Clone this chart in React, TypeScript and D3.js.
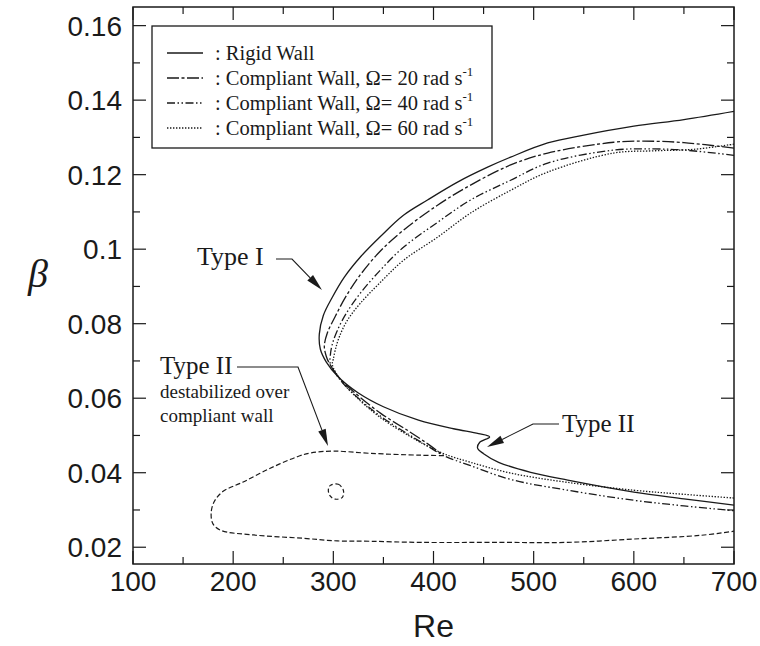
import React from 'react';
import * as d3 from 'd3';

type P = [number, number];

// ---- axis ticks ----
const reTicks = [100, 200, 300, 400, 500, 600, 700];
const reMinorTicks = [150, 250, 350, 450, 550, 650];
const betaTicks = [0.02, 0.04, 0.06, 0.08, 0.1, 0.12, 0.14, 0.16];
const betaTickLabels = ['0.02', '0.04', '0.06', '0.08', '0.1', '0.12', '0.14', '0.16'];
const betaMinorTicks = [0.03, 0.05, 0.07, 0.09, 0.11, 0.13, 0.15];

// ---- neutral stability curves [Re, beta] ----
const rigidWall: P[] = [
  [700, 0.1370], [650, 0.1348], [600, 0.1330], [550, 0.1306], [514, 0.1285], [477, 0.1247],
  [454, 0.1220], [424, 0.1180], [394, 0.1132], [370, 0.1091], [347, 0.1034], [327, 0.0979],
  [311, 0.0925], [299, 0.0871], [290, 0.0822], [286, 0.0772], [287, 0.0732], [293, 0.0697],
  [305, 0.0657], [325, 0.0614], [350, 0.0577], [385, 0.0541], [420, 0.0518], [445, 0.0505],
  [456, 0.0496], [446, 0.0481], [444, 0.0466], [450, 0.0451], [465, 0.0428], [497, 0.0401],
  [534, 0.0380], [600, 0.0348], [650, 0.0330], [700, 0.0313],
];
const omega20: P[] = [
  [700, 0.1271], [650, 0.1286], [610, 0.1290], [580, 0.1287], [514, 0.1258], [477, 0.1226],
  [437, 0.1172], [404, 0.1118], [370, 0.1051], [347, 0.0995], [328, 0.0935], [313, 0.0875],
  [302, 0.0820], [294, 0.0775], [291, 0.0740], [293, 0.0712], [296, 0.0694], [305, 0.0658],
  [320, 0.0618], [347, 0.0560], [375, 0.0512], [395, 0.0476], [410, 0.0446],
];
const omega40: P[] = [
  [700, 0.1252], [650, 0.1266], [620, 0.1269], [580, 0.1266], [514, 0.1231], [477, 0.1185],
  [437, 0.1132], [404, 0.1072], [370, 0.1005], [347, 0.0944], [327, 0.0882], [313, 0.0828],
  [304, 0.0782], [299, 0.0745], [297, 0.0715], [297, 0.0692], [306, 0.0652], [322, 0.0607],
  [347, 0.0552], [375, 0.0503], [395, 0.0470], [410, 0.0446], [437, 0.0419], [477, 0.0382],
  [534, 0.0353], [600, 0.0326], [650, 0.0311], [700, 0.0298],
];
const omega60: P[] = [
  [700, 0.1282], [660, 0.1268], [620, 0.1264], [580, 0.1258], [514, 0.1207], [477, 0.1158],
  [437, 0.1097], [404, 0.1032], [370, 0.0970], [347, 0.0911], [327, 0.0855], [314, 0.0809],
  [306, 0.0765], [302, 0.0730], [300, 0.0705], [299, 0.0690], [307, 0.0650], [323, 0.0603],
  [347, 0.0548], [375, 0.0500], [395, 0.0470], [412, 0.0449], [437, 0.0428], [477, 0.0399],
  [534, 0.0374], [600, 0.0353], [650, 0.0342], [700, 0.0332],
];
const typeIILoop: P[] = [
  [410, 0.0446], [387, 0.0447], [337, 0.0452], [300, 0.0458], [277, 0.0453], [264, 0.0443],
  [237, 0.0412], [210, 0.0375], [190, 0.0350], [181, 0.0322], [178, 0.0290], [180, 0.0262],
  [188, 0.0245], [220, 0.0233], [270, 0.0224], [304, 0.0217], [337, 0.0216], [387, 0.0213],
  [467, 0.0213], [534, 0.0213], [600, 0.0222], [667, 0.0232], [700, 0.0243],
];
const typeIIIsland: P[] = [
  [297, 0.0366], [305, 0.0369], [310, 0.0353], [309, 0.0334], [302, 0.0329], [297, 0.0337], [295, 0.0353],
];

const legendLabels = [
  ': Rigid Wall',
  ': Compliant Wall, \u03A9= 20 rad s',
  ': Compliant Wall, \u03A9= 40 rad s',
  ': Compliant Wall, \u03A9= 60 rad s',
];
const legendDashes = ['none', '12,2.5,3,2.5', '8,2.5,1.5,2.5,1.5,2.5', '1.4,1.6'];

const INK = '#1a1a1a';

function arrowHead(x1: number, y1: number, x2: number, y2: number, len = 17, half = 4) {
  const dx = x2 - x1, dy = y2 - y1;
  const L = Math.hypot(dx, dy);
  const ux = dx / L, uy = dy / L;
  const bx = x2 - ux * len, by = y2 - uy * len;
  const nx = -uy, ny = ux;
  return {
    pts: `${x2},${y2} ${bx + nx * half},${by + ny * half} ${bx - nx * half},${by - ny * half}`,
    bx, by,
  };
}

function Arrow({ pts }: { pts: [number, number][] }) {
  const n = pts.length;
  const [x1, y1] = pts[n - 2];
  const [x2, y2] = pts[n - 1];
  const h = arrowHead(x1, y1, x2, y2);
  const path = pts.slice(0, n - 1).map((p) => p.join(',')).join(' ') + ` ${h.bx},${h.by}`;
  return (
    <g>
      <polyline points={path} fill="none" stroke={INK} strokeWidth={1.1} />
      <polygon points={h.pts} fill={INK} />
    </g>
  );
}

export default function App() {
  const W = 760, H = 646;
  const x = d3.scaleLinear().domain([100, 700]).range([133, 734]);
  const y = d3.scaleLinear().domain([0.0155, 0.165]).range([564, 7]);
  const [x0, x1] = x.range();
  const [y0, y1] = y.range();

  const line = d3.line<P>().x((d) => x(d[0])).y((d) => y(d[1])).curve(d3.curveCatmullRom.alpha(0.5));
  const closed = d3.line<P>().x((d) => x(d[0])).y((d) => y(d[1])).curve(d3.curveCatmullRomClosed.alpha(0.5));

  const major = 13, minor = 7;
  const serif = '"Liberation Serif", "Times New Roman", serif';
  const sans = '"Liberation Sans", Arial, Helvetica, sans-serif';

  const series = [
    { d: rigidWall, dash: legendDashes[0] },
    { d: omega20, dash: legendDashes[1] },
    { d: omega40, dash: legendDashes[2] },
    { d: omega60, dash: legendDashes[3] },
  ];

  return (
    <svg width={W} height={H} viewBox={`0 0 ${W} ${H}`} style={{ position: 'absolute', left: 0, top: 0, background: '#fff' }}>
      <rect x={0} y={0} width={W} height={H} fill="#fff" />
      <defs>
        <clipPath id="plot">
          <rect x={x0} y={y1} width={x1 - x0} height={y0 - y1} />
        </clipPath>
      </defs>

      {/* curves */}
      <g clipPath="url(#plot)" fill="none" stroke={INK} strokeWidth={1.3}>
        {series.map((s, i) => (
          <path key={i} d={line(s.d) || ''} strokeDasharray={s.dash === 'none' ? undefined : s.dash} />
        ))}
        <path d={line(typeIILoop) || ''} strokeDasharray="5,2.5" strokeWidth={1.2} />
        <path d={closed(typeIIIsland) || ''} strokeDasharray="4,2.5" strokeWidth={1.2} />
      </g>

      {/* frame */}
      <rect x={x0} y={y1} width={x1 - x0} height={y0 - y1} fill="none" stroke={INK} strokeWidth={1.5} />

      {/* ticks */}
      <g stroke={INK} strokeWidth={1.2}>
        {reTicks.map((t) => (
          <g key={'xm' + t}>
            <line x1={x(t)} x2={x(t)} y1={y0} y2={y0 - major} />
            <line x1={x(t)} x2={x(t)} y1={y1} y2={y1 + major} />
          </g>
        ))}
        {reMinorTicks.map((t) => (
          <g key={'xn' + t}>
            <line x1={x(t)} x2={x(t)} y1={y0} y2={y0 - minor} />
            <line x1={x(t)} x2={x(t)} y1={y1} y2={y1 + minor} />
          </g>
        ))}
        {betaTicks.map((t) => (
          <g key={'ym' + t}>
            <line x1={x0} x2={x0 + major} y1={y(t)} y2={y(t)} />
            <line x1={x1} x2={x1 - major} y1={y(t)} y2={y(t)} />
          </g>
        ))}
        {betaMinorTicks.map((t) => (
          <g key={'yn' + t}>
            <line x1={x0} x2={x0 + minor} y1={y(t)} y2={y(t)} />
            <line x1={x1} x2={x1 - minor} y1={y(t)} y2={y(t)} />
          </g>
        ))}
      </g>

      {/* tick labels */}
      <g fontFamily={sans} fontSize={28} fill={INK}>
        {reTicks.map((t) => (
          <text key={'xl' + t} x={x(t)} y={y0 + 27} textAnchor="middle">{t}</text>
        ))}
        {betaTicks.map((t, i) => (
          <text key={'yl' + t} x={x0 - 11} y={y(t) + 10} textAnchor="end">{betaTickLabels[i]}</text>
        ))}
      </g>

      {/* axis titles */}
      <text x={(x0 + x1) / 2} y={637} textAnchor="middle" fontFamily={sans} fontSize={32} fill={INK}>Re</text>
      <text x={38} y={287} textAnchor="middle" fontFamily={serif} fontStyle="italic" fontSize={40} fill={INK}>{'\u03B2'}</text>

      {/* legend */}
      <rect x={152} y={26} width={340} height={122} fill="#fff" stroke={INK} strokeWidth={1.3} />
      {legendLabels.map((lab, i) => {
        const cy = 53 + i * 25;
        return (
          <g key={'lg' + i}>
            <line x1={167} x2={203} y1={cy} y2={cy} stroke={INK} strokeWidth={1.3}
              strokeDasharray={legendDashes[i] === 'none' ? undefined : legendDashes[i]} />
            <text x={215} y={cy + 7} fontFamily={serif} fontSize={20.5} fill={INK}>
              {lab}
              {i > 0 && <tspan dy={-9} fontSize={13}>-1</tspan>}
            </text>
          </g>
        );
      })}

      {/* annotations */}
      <g fontFamily={serif} fill={INK}>
        <text x={197} y={265} fontSize={26}>Type I</text>
        <text x={160} y={374} fontSize={25}>Type II</text>
        <text x={160} y={398} fontSize={19}>destabilized over</text>
        <text x={160} y={422} fontSize={19}>compliant wall</text>
        <text x={562} y={432} fontSize={25}>Type II</text>
      </g>
      <Arrow pts={[[276, 259], [292, 259], [322, 290]]} />
      <Arrow pts={[[237, 367], [298, 367], [328, 446]]} />
      <Arrow pts={[[559, 424], [533, 424], [487, 447]]} />
    </svg>
  );
}
